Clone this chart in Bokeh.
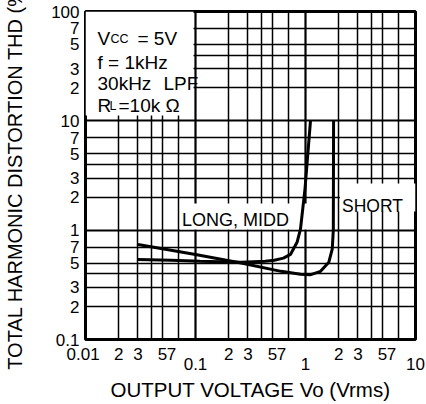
import math
from bokeh.plotting import figure
from bokeh.models import FixedTicker, Label, BoxAnnotation, Grid, LogAxis
from bokeh.embed import file_html
from bokeh.resources import INLINE

# ---- data ----
long_x = [0.03, 0.06, 0.11, 0.26, 0.43, 0.52, 0.63, 0.73, 0.84, 0.90, 0.99, 1.11]
long_y = [0.54, 0.53, 0.52, 0.51, 0.52, 0.53, 0.555, 0.60, 0.78, 1.02, 2.4, 10.0]

short_x = [0.03, 0.10, 0.26, 0.60, 0.90, 1.10, 1.37, 1.63, 1.75, 1.79, 1.80]
short_y = [0.74, 0.60, 0.50, 0.42, 0.395, 0.39, 0.42, 0.51, 0.67, 1.0, 10.0]

x_decades = [0.01, 0.1, 1, 10]
y_decades = [0.1, 1, 10, 100]
grid_mults = [2, 3, 4, 5, 7]
label_mults = [2, 3, 5, 7]
x_decade_labels = ["0.01", "0.1", "1", "10"]
y_decade_labels = ["0.1", "1", "10", "100"]

info_lines = ["f = 1kHz"]
curve_labels = ["LONG, MIDD", "SHORT"]
x_title = "OUTPUT VOLTAGE Vo (Vrms)"
y_title = "TOTAL HARMONIC DISTORTION THD (%)"

x_grid = [d * m for d in x_decades[:-1] for m in grid_mults]
y_grid = [d * m for d in y_decades[:-1] for m in grid_mults]

FONT = "Liberation Sans"
NB = "\u00a0"

# helpers: reference-pixel positions -> data coords (annotation placement only)
def px_x(px):
    return 10 ** (-2 + 3 * (px - 85) / 330)

def px_y(py):
    return 10 ** (2 - 3 * (py - 11) / 328)

p = figure(width=426, height=404, x_axis_type="log", y_axis_type="log",
           x_range=(0.01, 10), y_range=(0.1, 100),
           x_axis_location=None, y_axis_location=None,
           toolbar_location=None, output_backend="svg",
           min_border_left=85, min_border_right=11,
           min_border_top=11, min_border_bottom=65)
p.outline_line_color = "black"
p.outline_line_width = 3
p.background_fill_color = "white"
p.border_fill_color = "white"

p.xgrid.ticker = FixedTicker(ticks=x_grid)
p.ygrid.ticker = FixedTicker(ticks=y_grid)
for g in (p.xgrid, p.ygrid):
    g.grid_line_color = "black"
    g.grid_line_width = 1.5

p.add_layout(Grid(dimension=0, ticker=FixedTicker(ticks=x_decades),
                  grid_line_color="black", grid_line_width=2.2))
p.add_layout(Grid(dimension=1, ticker=FixedTicker(ticks=y_decades),
                  grid_line_color="black", grid_line_width=2.2))

def style_axis(ax, size="17px"):
    ax.axis_line_color = None
    ax.major_tick_line_color = None
    ax.minor_tick_line_color = None
    ax.major_tick_out = 0
    ax.major_tick_in = 0
    ax.minor_tick_out = 0
    ax.minor_tick_in = 0
    ax.major_label_text_font = FONT
    ax.major_label_text_font_size = size
    ax.major_label_text_color = "black"
    ax.axis_label_text_font = FONT
    ax.axis_label_text_font_style = "normal"
    ax.axis_label_text_color = "black"

# ---- y axis (left) ----
y_ticks = sorted(y_decades + [d * m for d in y_decades[:-1] for m in label_mults])
y_over = {d * m: str(m) for d in y_decades[:-1] for m in label_mults}
y_over.update({v: t for v, t in zip(y_decades, y_decade_labels)})
yax = LogAxis(ticker=FixedTicker(ticks=y_ticks), major_label_overrides=y_over)
style_axis(yax)
yax.major_label_standoff = 6
yax.axis_label = y_title
yax.axis_label_text_font_size = "20px"
yax.axis_label_standoff = 22
p.add_layout(yax, "left")

# ---- x axis: minor labels row ----
xa_ticks = [x_decades[0]] + [d * m for d in x_decades[:-1] for m in label_mults]
xa_over = {d * m: (str(m) + NB * 3 if m == 7 else str(m)) for d in x_decades[:-1] for m in label_mults}
xa_over[x_decades[0]] = x_decade_labels[0] + NB
xax = LogAxis(ticker=FixedTicker(ticks=xa_ticks), major_label_overrides=xa_over)
style_axis(xax)
xax.major_label_standoff = 5
p.add_layout(xax, "below")

# ---- x axis: decade labels row + title ----
xb_ticks = x_decades[1:]
xb_over = {v: t for v, t in zip(x_decades[1:], x_decade_labels[1:])}
xbx = LogAxis(ticker=FixedTicker(ticks=xb_ticks), major_label_overrides=xb_over)
style_axis(xbx)
xbx.major_label_standoff = -9
xbx.axis_label = x_title
xbx.axis_label_text_font_size = "20.5px"
xbx.axis_label_standoff = 5
p.add_layout(xbx, "below")

# white backgrounds behind texts inside the frame
for (l, r, b, t) in [(0.01, px_x(193), px_y(115), 100),
                     (px_x(179.5), px_x(333), px_y(229), px_y(203)),
                     (px_x(339.5), 10, px_y(211), px_y(183))]:
    p.add_layout(BoxAnnotation(left=l, right=r, bottom=b, top=t,
                               fill_color="white", fill_alpha=1.0,
                               line_alpha=0))

p.line(long_x, long_y, line_width=3, color="black", level="overlay")
p.line(short_x, short_y, line_width=3, color="black", level="overlay")

def lab(text, x, y, size, align="left", baseline="alphabetic"):
    p.add_layout(Label(text=text, x=x, y=y, text_font=FONT, text_font_size=f"{size}px",
                       text_color="black", text_align=align, text_baseline=baseline))

# info box text
lab("V", px_x(97), px_y(38), 19)
lab("CC", px_x(110), px_y(38), 12.5)
lab("= 5V", px_x(137), px_y(38), 19)
lab(info_lines[0], px_x(97), px_y(62), 19)
lab("30kHz", px_x(97), px_y(83), 19)
lab("LPF", px_x(163), px_y(83), 19)
lab("R", px_x(97), px_y(105), 19)
lab("L", px_x(109), px_y(105), 12.5)
lab("=10k Ω", px_x(118), px_y(105), 19)

# curve labels
lab(curve_labels[0], px_x(181.5), px_y(219), 18)
lab(curve_labels[1], px_x(341.5), px_y(205), 17.5)

open("out.html", "w").write(file_html(p, INLINE))
